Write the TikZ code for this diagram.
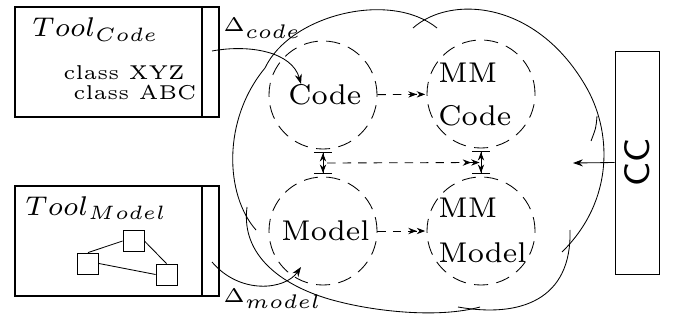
\documentclass[tikz,border=0pt]{standalone}
\usepackage{graphicx}
\usepackage{amsmath}
\usetikzlibrary{arrows.meta}
\usetikzlibrary{shapes,calc}

\newcommand{\figtxt}[2][2.9]{\scalebox{#1}{\fontsize{7}{8}\selectfont #2}}
\newcommand{\figsml}[2][2.85]{\scalebox{#1}{\fontsize{5}{6}\selectfont #2}}

\begin{document}
\begin{tikzpicture}[x=0.025cm,y=-0.025cm,line width=0.6pt,>={Stealth[length=7pt,width=5pt]}]
		\tikzstyle{toolbox}=[draw,line width=1.4pt,minimum width=4.675cm,minimum height=2.75cm,inner sep=0pt]
		\tikzstyle{toolbar}=[draw,line width=1.4pt,minimum width=0.425cm,minimum height=2.75cm,inner sep=0pt]
		\tikzstyle{repo}=[draw,circle,dash pattern=on 10pt off 6pt,minimum size=2.7cm,inner sep=0pt]
		\tikzstyle{sq}=[draw,minimum size=0.525cm,inner sep=0pt]
		\tikzstyle{lbl}=[anchor=base west,inner sep=0pt]
		\tikzstyle{flow}=[dash pattern=on 6pt off 5pt,-{Stealth[length=6pt,width=4.5pt]Stealth[length=6pt,width=4.5pt]},shorten >=1pt]
		\tikzstyle{link}=[{Bar[width=13pt]Stealth[length=6pt,width=4.5pt]}-{Stealth[length=6pt,width=4.5pt]Bar[width=13pt]},shorten <=2pt,shorten >=2pt]

		\useasboundingbox (0,0) rectangle (674,320);

		% tools
		\node[toolbox](toolcode) at (108.5,62){};
		\node[toolbar](barcode) at (210.5,62){};
		\node[lbl](tcname) at (32,37){\figtxt[2.75]{$Tool_{Code}$}};
		\node[lbl](cls1) at (63,80){\figsml{class XYZ}};
		\node[lbl](cls2) at (73,100){\figsml{class ABC}};

		\node[toolbox](toolmodel) at (108.5,241){};
		\node[toolbar](barmodel) at (210.5,241){};
		\node[lbl](tmname) at (25,215){\figtxt[2.75]{$Tool_{Model}$}};
		\node[sq](s1) at (88,263.5){};
		\node[sq](s2) at (133.5,241){};
		\node[sq](s3) at (166.5,274.5){};
		\draw (s1.north) -- (s2.west);
		\draw (s2.east) -- (s3.north);
		\draw (s1.east) -- (s3.west);

		% repositories
		\node[repo](code) at (323,95){};
		\node[repo](mmcode) at (481,94){};
		\node[repo](model) at (323,231){};
		\node[repo](mmmodel) at (481,231){};

		\node[lbl](codetxt) at (288,105){\figtxt{Code}};
		\node[lbl](modeltxt) at (281,240){\figtxt{Model}};
		\node[lbl](mmc1) at (438,83){\figtxt{MM}};
		\node[lbl](mmc2) at (438,126){\figtxt{Code}};
		\node[lbl](mmm1) at (438,217){\figtxt{MM}};
		\node[lbl](mmm2) at (438,262){\figtxt{Model}};

		\draw[flow] (code) -- (mmcode);
		\draw[flow] (model) -- (mmmodel);
		\draw[link] (code) -- (model);
		\draw[link] (mmcode) -- (mmmodel);
		\coordinate (lmid) at ($(code)!0.5!(model)$);
		\coordinate (rmid) at ($(mmcode)!0.5!(mmmodel)$);
		\draw[flow,shorten <=3pt] (lmid) -- (rmid);

		% cloud
		\draw (256,230) .. controls (225,195) and (222,120) .. (265,68) .. controls (290,15) and (390,-10) .. (437,28);
		\draw (413,28) .. controls (450,-5) and (535,0) .. (585,85) .. controls (612,130) and (615,200) .. (562,252);
		\draw (597,116) .. controls (596,128) .. (591,141);
		\draw (570,230) .. controls (572,300) and (520,318) .. (458,307);
		\draw (247,207) .. controls (240,260) and (290,290) .. (340,302) .. controls (380,312) and (440,318) .. (480,307);

		% deltas
		\coordinate (dcs) at (212,51);
		\coordinate (dce) at (301,84);
		\draw[->] (dcs) .. controls (250,44) and (292,52) .. (dce);
		\node[lbl](dcode) at (223,32){\figsml[2.8]{$\Delta_{code}$}};
		\coordinate (dms) at (212,262);
		\coordinate (dme) at (301,267);
		\draw[->] (dms) .. controls (240,295) and (285,290) .. (dme);
		\node[lbl](dmodel) at (223,302){\figsml[2.8]{$\Delta_{model}$}};

		% consistency checker
		\node[draw,minimum width=1.1cm,minimum height=5.575cm,inner sep=0pt](ccbox) at (637,162.5){};
		\node[rotate=90](cclabel) at (ccbox){\figtxt[3.6]{\sffamily CC}};
		\coordinate (cctip) at (573,163);
		\draw[->] (ccbox.west) -- (cctip);
\end{tikzpicture}
\end{document}
